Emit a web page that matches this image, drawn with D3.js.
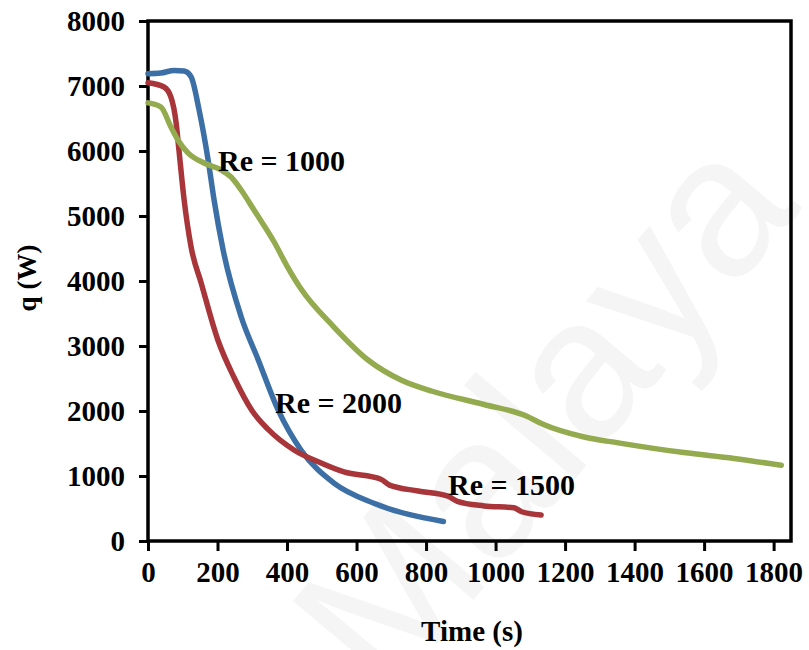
<!DOCTYPE html>
<html>
<head>
<meta charset="utf-8">
<script src="https://cdn.jsdelivr.net/npm/d3@7"></script>
<style>
  body { margin: 0; background: #fff; }
  svg { display: block; }
</style>
</head>
<body>
<div id="chart"></div>
<script>
// heat transfer rate vs time, one series per Reynolds number
var timeRe2000 = [0, 37, 75, 104, 124, 147, 173, 190, 216, 268, 317, 374, 440, 535, 650, 850];
var qRe2000 = [7190, 7200, 7240, 7230, 7140, 6630, 5860, 5250, 4480, 3450, 2790, 2020, 1400, 890, 580, 300];

var timeRe1500 = [0, 46, 66, 81, 89, 104, 124, 153, 201, 247, 300, 345, 420, 498, 564, 670, 695, 777, 863, 890, 967, 1053, 1075, 1131];
var qRe1500 = [7050, 6985, 6830, 6430, 6015, 5246, 4523, 3970, 3092, 2523, 2000, 1720, 1400, 1200, 1062, 950, 860, 770, 690, 610, 540, 510, 450, 400];

var timeRe1000 = [0, 37, 66, 86, 115, 161, 210, 239, 268, 305, 363, 400, 440, 535, 633, 728, 820, 967, 1090, 1135, 1255, 1353, 1542, 1686, 1822];
var qRe1000 = [6740, 6677, 6369, 6170, 5970, 5815, 5708, 5600, 5400, 5092, 4600, 4230, 3880, 3292, 2785, 2477, 2300, 2100, 1920, 1800, 1600, 1510, 1360, 1270, 1165];

var xTicks = [0, 200, 400, 600, 800, 1000, 1200, 1400, 1600, 1800];
var yTicks = [0, 1000, 2000, 3000, 4000, 5000, 6000, 7000, 8000];

var series = [
    { name: "Re = 2000", t: timeRe2000, q: qRe2000, color: "#3c6fa6", label: [275, 413] },
    { name: "Re = 1500", t: timeRe1500, q: qRe1500, color: "#a83539", label: [448, 495] },
    { name: "Re = 1000", t: timeRe1000, q: qRe1000, color: "#93aa4f", label: [218, 171] }
];

var W = 809, H = 650;
var plotLeft = 148, plotRight = 791, plotTop = 21, plotBottom = 541;
var font = "'Liberation Serif', 'Times New Roman', serif";

var svg = d3.select("#chart")
    .append("svg")
    .attr("width", W)
    .attr("height", H)
    .style("background-color", "#fff");

// faint watermark behind the plot
svg.append("text")
    .attr("transform", "translate(595,455) rotate(-50)")
    .attr("text-anchor", "middle")
    .style("font-family", "'Liberation Sans', Arial, sans-serif")
    .style("font-size", "200px")
    .style("fill", "#f5f5f5")
    .text("Malaya");

var x = d3.scaleLinear()
    .domain([0, 1850])
    .range([plotLeft, plotRight]);

var y = d3.scaleLinear()
    .domain([0, 8000])
    .range([plotBottom, plotTop]);

var xAxis = svg.append("g")
    .attr("transform", "translate(0," + plotBottom + ")")
    .call(d3.axisBottom(x).tickValues(xTicks).tickSize(10).tickPadding(10).tickFormat(d3.format("d")));

var yAxis = svg.append("g")
    .attr("transform", "translate(" + plotLeft + ",0)")
    .call(d3.axisLeft(y).tickValues(yTicks).tickSize(9).tickPadding(14).tickFormat(d3.format("d")));

[xAxis, yAxis].forEach(function (g) {
    g.select(".domain").remove();
    g.selectAll(".tick line").attr("stroke", "#000").attr("stroke-width", 3);
    g.selectAll(".tick text")
        .style("font-family", font)
        .style("font-weight", "bold")
        .style("font-size", "29px")
        .attr("fill", "#000");
});

// frame
svg.append("rect")
    .attr("x", plotLeft)
    .attr("y", plotTop)
    .attr("width", plotRight - plotLeft)
    .attr("height", plotBottom - plotTop)
    .attr("fill", "none")
    .attr("stroke", "#000")
    .attr("stroke-width", 3.5);

var line = d3.line()
    .x(function (d) { return x(d[0]); })
    .y(function (d) { return y(d[1]); })
    .curve(d3.curveMonotoneX);

series.forEach(function (s) {
    var pts = s.t.map(function (t, i) { return [t, s.q[i]]; });
    svg.append("path")
        .datum(pts)
        .attr("d", line)
        .attr("fill", "none")
        .attr("stroke", s.color)
        .attr("stroke-width", 5.5)
        .attr("stroke-linecap", "round")
        .attr("stroke-linejoin", "round");
});

series.forEach(function (s) {
    svg.append("text")
        .attr("x", s.label[0])
        .attr("y", s.label[1])
        .style("font-family", font)
        .style("font-weight", "bold")
        .style("font-size", "30px")
        .text(s.name);
});

svg.append("text")
    .attr("x", 472)
    .attr("y", 641)
    .attr("text-anchor", "middle")
    .style("font-family", font)
    .style("font-weight", "bold")
    .style("font-size", "29px")
    .text("Time (s)");

svg.append("text")
    .attr("transform", "translate(36,278) rotate(-90)")
    .attr("text-anchor", "middle")
    .style("font-family", font)
    .style("font-weight", "bold")
    .style("font-size", "27px")
    .text("q (W)");
</script>
</body>
</html>
